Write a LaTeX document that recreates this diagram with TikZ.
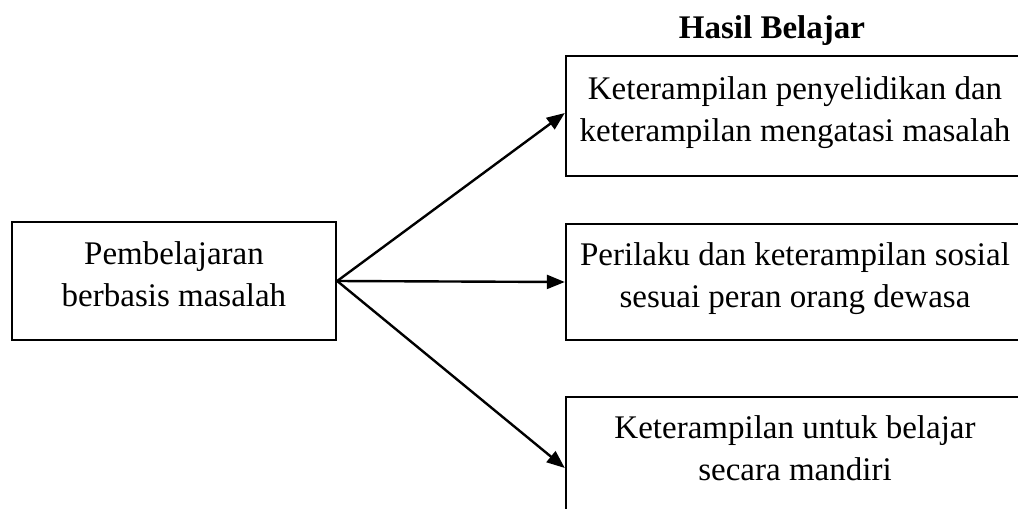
\documentclass[tikz,border=0pt]{standalone}
\usepackage{fontspec}
\setmainfont{Liberation Serif}
\usetikzlibrary{arrows.meta,calc}
\begin{document}
\begin{tikzpicture}[x=1pt,y=-1pt,
  box/.style={draw,line width=2.4pt,align=center,inner sep=0pt,text depth=13pt,font=\fontsize{33}{42}\selectfont},
  arr/.style={line width=2.4pt,-{Triangle[length=18pt,width=14pt]}}]
\useasboundingbox (0,0) rectangle (1018,509);
\node[box,minimum width=324pt,minimum height=118pt] (pbm) at (174,281) {Pembelajaran\\berbasis masalah};
\node[box,minimum width=458pt,minimum height=120pt] (h1) at (795,116) {Keterampilan penyelidikan dan\\keterampilan mengatasi masalah};
\node[box,minimum width=458pt,minimum height=116pt] (h2) at (795,282) {Perilaku dan keterampilan sosial\\sesuai peran orang dewasa};
\node[box,minimum width=458pt,minimum height=116pt] (h3) at (795,455) {Keterampilan untuk belajar\\secara mandiri};
\node[font=\bfseries\fontsize{33}{40}\selectfont] (title) at (772,31) {Hasil Belajar};
\draw[arr] (pbm.east) -- ($(h1.west)+(0,-3)$);
\draw[arr] (pbm.east) -- (h2.west);
\draw[arr] (pbm.east) -- ($(h3.west)+(0,13)$);
\end{tikzpicture}
\end{document}
